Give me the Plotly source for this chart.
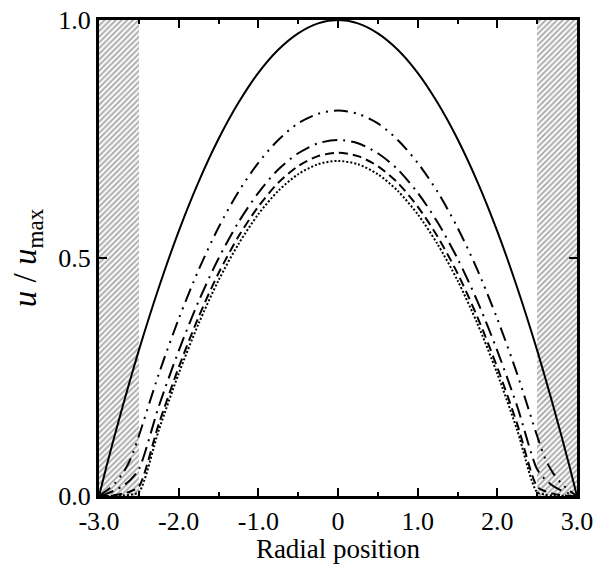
import plotly.graph_objects as go

# Radial positions
x_pos = [-3.0, -2.9, -2.8, -2.7, -2.6, -2.5, -2.25, -2.0, -1.75, -1.5, -1.25, -1.0, -0.75, -0.5, -0.25, 0.0,
         0.25, 0.5, 0.75, 1.0, 1.25, 1.5, 1.75, 2.0, 2.25, 2.5, 2.6, 2.7, 2.8, 2.9, 3.0]

u_solid = [0.0, 0.066, 0.129, 0.19, 0.249, 0.306, 0.4375, 0.556, 0.66, 0.75, 0.826, 0.889, 0.9375, 0.972, 0.993, 1.0,
           0.993, 0.972, 0.9375, 0.889, 0.826, 0.75, 0.66, 0.556, 0.4375, 0.306, 0.249, 0.19, 0.129, 0.066, 0.0]

u_dashdotdot = [0.0, 0.012, 0.027, 0.048, 0.079, 0.126, 0.256, 0.372, 0.475, 0.564, 0.639, 0.70, 0.748, 0.783, 0.803, 0.81,
                0.803, 0.783, 0.748, 0.70, 0.639, 0.564, 0.475, 0.372, 0.256, 0.126, 0.079, 0.048, 0.027, 0.012, 0.0]

u_dashdot = [0.0, 0.005, 0.012, 0.021, 0.035, 0.056, 0.188, 0.305, 0.409, 0.499, 0.575, 0.637, 0.686, 0.72, 0.741, 0.748,
             0.741, 0.72, 0.686, 0.637, 0.575, 0.499, 0.409, 0.305, 0.188, 0.056, 0.035, 0.021, 0.012, 0.005, 0.0]

u_dash = [0.0, 0.0005, 0.002, 0.005, 0.01, 0.02, 0.151, 0.27, 0.376, 0.468, 0.545, 0.608, 0.658, 0.693, 0.714, 0.721,
          0.714, 0.693, 0.658, 0.608, 0.545, 0.468, 0.376, 0.27, 0.151, 0.02, 0.01, 0.005, 0.002, 0.0005, 0.0]

u_dot = [0.0, 0.0, 0.0005, 0.001, 0.003, 0.008, 0.138, 0.257, 0.362, 0.453, 0.529, 0.592, 0.641, 0.676, 0.697, 0.704,
         0.697, 0.676, 0.641, 0.592, 0.529, 0.453, 0.362, 0.257, 0.138, 0.008, 0.003, 0.001, 0.0005, 0.0, 0.0]

# Porous wall regions (centre, width, height)
porous_centres = [-2.75, 2.75]
porous_widths = [0.5, 0.5]
porous_heights = [1.0, 1.0]

x_ticks = [-3, -2, -1, 0, 1, 2, 3]
x_ticklabels = ["-3.0", "-2.0", "-1.0", "0", "1.0", "2.0", "3.0"]
y_ticks = [0, 0.5, 1.0]
y_ticklabels = ["0.0", "0.5", "1.0"]

fig = go.Figure()

fig.add_trace(go.Bar(
    x=porous_centres, y=porous_heights, width=porous_widths,
    marker=dict(color="white", line=dict(width=0),
                pattern=dict(shape="/", fgcolor="#5c5c5c", bgcolor="white", size=4, solidity=0.5)),
    showlegend=False, hoverinfo="skip"))

styles = [
    (u_solid, "solid"),
    (u_dashdotdot, "14px,6px,2px,6px,2px,6px"),
    (u_dashdot, "15px,6px,2px,6px"),
    (u_dash, "9px,5px"),
    (u_dot, "2px,2px"),
]
for ys, dash in styles:
    fig.add_trace(go.Scatter(
        x=x_pos, y=ys, mode="lines",
        line=dict(color="black", width=2, dash=dash, shape="spline", smoothing=0.8),
        showlegend=False, hoverinfo="skip"))

axis_common = dict(showgrid=False, zeroline=False, showline=True, linecolor="black", linewidth=3,
                   mirror="allticks", ticks="inside", tickcolor="black", automargin=False,
                   tickfont=dict(family="Liberation Serif", size=26, color="black"))

fig.update_layout(
    width=595, height=564,
    margin=dict(l=99, r=18, t=20, b=68),
    paper_bgcolor="white", plot_bgcolor="white",
    bargap=0,
    xaxis=dict(range=[-3, 3], tickvals=x_ticks, ticktext=x_ticklabels, ticklen=8, tickwidth=2,
               minor=dict(dtick=0.5, tick0=0, ticks="inside", ticklen=4, tickwidth=2, tickcolor="black"),
               title=dict(text="Radial position", font=dict(family="Liberation Serif", size=27, color="black"),
                          standoff=1),
               **axis_common),
    yaxis=dict(range=[0, 1], tickvals=y_ticks, ticktext=y_ticklabels, ticklen=8, tickwidth=2,
               title=dict(text="<i>u</i> / <i>u</i><sub>max</sub>",
                          font=dict(family="Liberation Serif", size=33, color="black"), standoff=12),
               **axis_common),
)

fig.write_html("out.html")
